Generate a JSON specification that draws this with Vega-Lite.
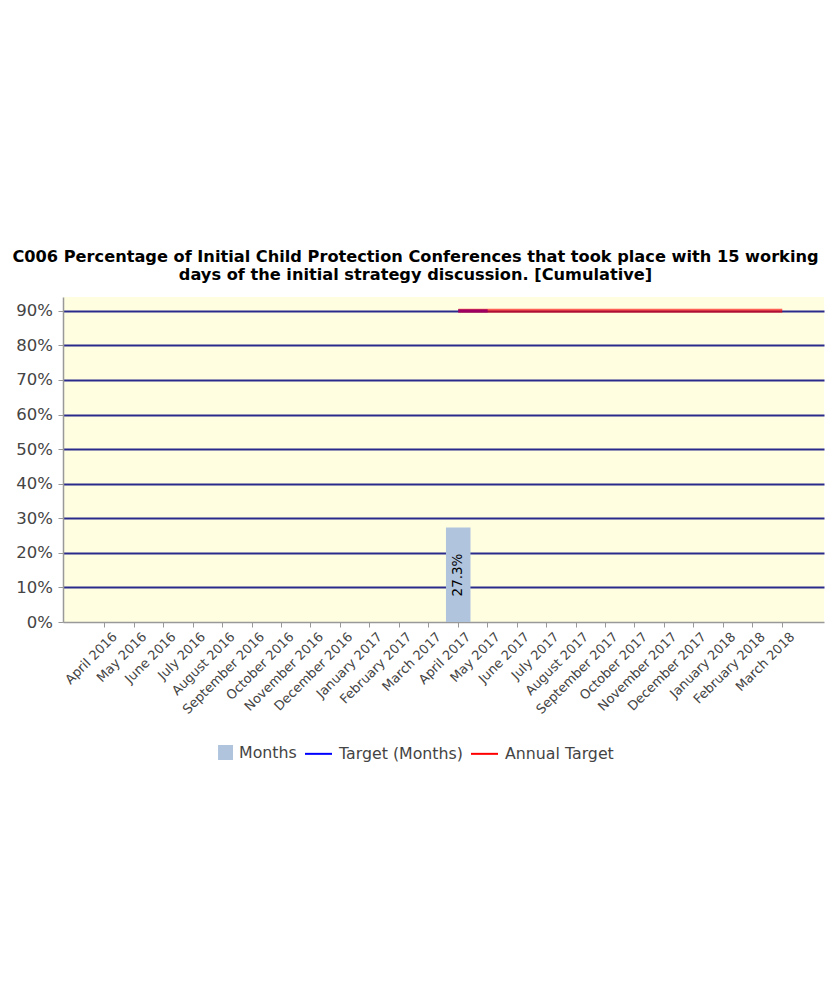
{
  "$schema": "https://vega.github.io/schema/vega-lite/v6.json",
  "width": 761,
  "height": 325,
  "autosize": {"type": "none"},
  "padding": {"left": 63, "top": 297, "right": 15, "bottom": 376},
  "background": "white",
  "title": {
    "text": ["C006 Percentage of Initial Child Protection Conferences that took place with 15 working", "days of the initial strategy discussion. [Cumulative]"],
    "font": "DejaVu Sans",
    "fontSize": 16.2,
    "fontWeight": "bold",
    "color": "#000000",
    "lineHeight": 18,
    "anchor": "middle",
    "dx": -28,
    "offset": 14
  },
  "data": {
    "values": [
      {"month": "April 2017", "series": "Months", "value": 0.273},
      {"month": "April 2017", "series": "Target (Months)", "value": 0.9},
      {"month": "May 2017", "series": "Target (Months)", "value": 0.9},
      {"month": "April 2017", "series": "Annual Target", "value": 0.9},
      {"month": "May 2017", "series": "Annual Target", "value": 0.9},
      {"month": "June 2017", "series": "Annual Target", "value": 0.9},
      {"month": "July 2017", "series": "Annual Target", "value": 0.9},
      {"month": "August 2017", "series": "Annual Target", "value": 0.9},
      {"month": "September 2017", "series": "Annual Target", "value": 0.9},
      {"month": "October 2017", "series": "Annual Target", "value": 0.9},
      {"month": "November 2017", "series": "Annual Target", "value": 0.9},
      {"month": "December 2017", "series": "Annual Target", "value": 0.9},
      {"month": "January 2018", "series": "Annual Target", "value": 0.9},
      {"month": "February 2018", "series": "Annual Target", "value": 0.9},
      {"month": "March 2018", "series": "Annual Target", "value": 0.9}
    ]
  },
  "encoding": {
    "x": {
      "field": "month",
      "type": "nominal",
      "sort": null,
      "scale": {
        "domain": ["April 2016", "May 2016", "June 2016", "July 2016", "August 2016", "September 2016", "October 2016", "November 2016", "December 2016", "January 2017", "February 2017", "March 2017", "April 2017", "May 2017", "June 2017", "July 2017", "August 2017", "September 2017", "October 2017", "November 2017", "December 2017", "January 2018", "February 2018", "March 2018"],
        "paddingInner": 0.1676,
        "paddingOuter": 1.28
      },
      "axis": {
        "title": null,
        "labelAngle": -45,
        "labelFont": "DejaVu Sans",
        "labelFontSize": 13,
        "labelColor": "#444444",
        "labelPadding": 3,
        "labelOffset": 6,
        "domainColor": "#999999",
        "domainWidth": 1.5,
        "tickColor": "#999999",
        "tickSize": 5,
        "grid": false
      }
    },
    "y": {
      "field": "value",
      "type": "quantitative",
      "scale": {"domain": [0, 0.94], "nice": false},
      "axis": {
        "title": null,
        "values": [0, 0.1, 0.2, 0.3, 0.4, 0.5, 0.6, 0.7, 0.8, 0.9],
        "format": ".0%",
        "labelFont": "DejaVu Sans",
        "labelFontSize": 16.5,
        "labelColor": "#444444",
        "labelPadding": 5.5,
        "domainColor": "#999999",
        "domainWidth": 1.5,
        "tickColor": "#999999",
        "tickSize": 5,
        "grid": true,
        "gridColor": "#2A2A8C",
        "gridWidth": 2,
        "gridOpacity": {"condition": {"test": "datum.value === 0", "value": 0}, "value": 1}
      }
    },
    "color": {
      "field": "series",
      "type": "nominal",
      "scale": {
        "domain": ["Months", "Target (Months)", "Annual Target"],
        "range": ["#B0C4DE", "#0000FF", "#FF0000"]
      },
      "legend": {
        "orient": "none",
        "legendX": 141,
        "legendY": 441,
        "direction": "horizontal",
        "title": null,
        "symbolSize": 729,
        "labelFont": "DejaVu Sans",
        "labelFontSize": 15.8,
        "labelColor": "#444444",
        "labelOffset": 6,
        "columnPadding": 4,
        "encode": {
          "symbols": {
            "update": {
              "shape": {"signal": "datum.value === 'Months' ? 'M0.04,-0.48H1V0.48H0.04Z' : 'stroke'"},
              "size": {"value": 729},
              "fill": {"signal": "datum.value === 'Months' ? '#B0C4DE' : 'transparent'"},
              "stroke": {"signal": "datum.value === 'Target (Months)' ? '#0000FF' : (datum.value === 'Annual Target' ? '#FF0000' : 'transparent')"},
              "strokeWidth": {"value": 2},
              "opacity": {"value": 1}
            }
          }
        }
      }
    }
  },
  "layer": [
    {
      "transform": [{"filter": "datum.series === 'Months'"}],
      "mark": {"type": "bar", "opacity": 1}
    },
    {
      "transform": [{"filter": "datum.series === 'Months'"}],
      "mark": {"type": "text", "angle": -90, "align": "center", "baseline": "middle", "dx": 47, "font": "DejaVu Sans", "fontSize": 13.5, "color": "#000000"},
      "encoding": {
        "y": {"datum": 0},
        "text": {"field": "value", "type": "quantitative", "format": ".1%"},
        "color": {"value": "#000000"}
      }
    },
    {
      "transform": [{"filter": "datum.series === 'Target (Months)'"}],
      "mark": {"type": "line", "strokeWidth": 3}
    },
    {
      "transform": [{"filter": "datum.series === 'Annual Target'"}],
      "mark": {"type": "line", "strokeWidth": 4, "opacity": 0.62}
    }
  ],
  "config": {
    "view": {"fill": "#FFFEE0", "stroke": null}
  }
}
